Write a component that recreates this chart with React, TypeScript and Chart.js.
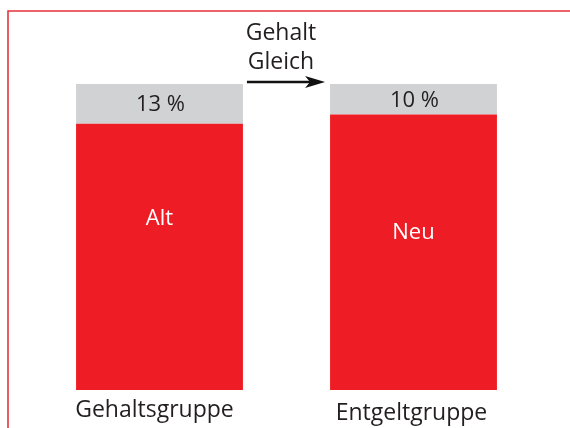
import React, { useEffect, useRef } from "react";
import { Chart, registerables } from "chart.js";

Chart.register(...registerables);

const categories = ["Gehaltsgruppe", "Entgeltgruppe"];
const mainValues = [87, 90];
const restValues = [13, 10];
const restLabels = ["13 %", "10 %"];
const barNames = ["Alt", "Neu"];
const barNameValues = [56, 51.5];
const arrowLines = ["Gehalt", "Gleich"];

const RED = "#ee1d25";
const GRAY = "#d1d2d4";
const TEXT = "#231f20";
const FONT = "'Open Sans', 'Noto Sans', sans-serif";

const overlay = {
  id: "overlay",
  beforeDraw(chart: any) {
    const ctx = chart.ctx;
    ctx.save();
    ctx.fillStyle = "#ffffff";
    ctx.fillRect(0, 0, chart.width, chart.height);
    ctx.strokeStyle = "#e8313b";
    ctx.lineWidth = 1.6;
    ctx.beginPath();
    ctx.moveTo(8, chart.height);
    ctx.lineTo(8, 11);
    ctx.lineTo(chart.width, 11);
    ctx.stroke();
    ctx.restore();
  },
  afterDraw(chart: any) {
    const ctx = chart.ctx;
    const x = chart.scales.x;
    const y = chart.scales.y;
    const mainMeta = chart.getDatasetMeta(0);
    ctx.save();
    ctx.textAlign = "center";
    ctx.textBaseline = "middle";
    categories.forEach((c, i) => {
      const cx = x.getPixelForValue(i);
      const top = y.getPixelForValue(mainValues[i] + restValues[i]);
      const bot = y.getPixelForValue(mainValues[i]);
      ctx.font = `22px ${FONT}`;
      ctx.fillStyle = TEXT;
      ctx.fillText(restLabels[i], cx + 1, (top + bot) / 2 + 1);
      ctx.fillStyle = "#ffffff";
      ctx.fillText(barNames[i], cx, y.getPixelForValue(barNameValues[i]));
      ctx.font = `23px ${FONT}`;
      ctx.fillStyle = TEXT;
      ctx.fillText(c, cx - (i === 0 ? 5 : 2), y.getPixelForValue(0) + 20 + i * 3);
    });
    // arrow between bars
    const b0 = mainMeta.data[0];
    const b1 = mainMeta.data[1];
    const left = b0.x + b0.width / 2 + 4;
    const right = b1.x - b1.width / 2 - 5;
    const mid = (left + right) / 2 - 5;
    const ay = y.getPixelForValue(100) - 2;
    ctx.font = `23px ${FONT}`;
    ctx.fillStyle = TEXT;
    ctx.fillText(arrowLines[0], mid, ay - 49);
    ctx.fillText(arrowLines[1], mid, ay - 20);
    ctx.strokeStyle = "#111";
    ctx.lineWidth = 2.5;
    ctx.beginPath();
    ctx.moveTo(left, ay);
    ctx.lineTo(right - 10, ay);
    ctx.stroke();
    ctx.fillStyle = "#111";
    ctx.beginPath();
    ctx.moveTo(right, ay);
    ctx.lineTo(right - 20, ay - 6);
    ctx.lineTo(right - 15, ay);
    ctx.lineTo(right - 20, ay + 6);
    ctx.closePath();
    ctx.fill();
    ctx.restore();
  },
};

export default function App() {
  const ref = useRef<HTMLCanvasElement | null>(null);
  useEffect(() => {
    if (!ref.current) return;
    const chart = new Chart(ref.current, {
      type: "bar",
      data: {
        labels: categories,
        datasets: [
          { data: mainValues, backgroundColor: RED, borderWidth: 0, barPercentage: 0.657, categoryPercentage: 1 },
          { data: restValues, backgroundColor: GRAY, borderWidth: 0, barPercentage: 0.657, categoryPercentage: 1 },
        ],
      },
      options: {
        animation: false,
        responsive: false,
        layout: { padding: { left: 32.5, right: 29.5, top: 84, bottom: 38 } },
        plugins: { legend: { display: false }, tooltip: { enabled: false } },
        scales: {
          x: { stacked: true, display: false },
          y: { stacked: true, display: false, min: 0, max: 100 },
        },
      },
      plugins: [overlay],
    });
    return () => chart.destroy();
  }, []);
  return (
    <div style={{ position: "fixed", left: 0, top: 0, width: 570, height: 428, background: "#fff" }}>
      <canvas ref={ref} width={570} height={428} style={{ width: 570, height: 428 }} />
    </div>
  );
}
